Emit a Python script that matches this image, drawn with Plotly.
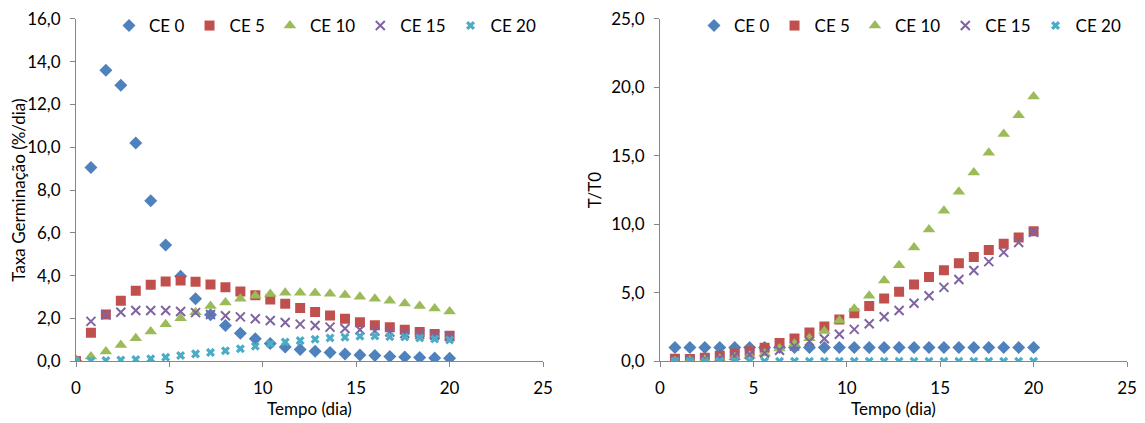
import plotly.graph_objects as go

# ---- data ----
x_rate = [0, 0.8, 1.6, 2.4, 3.2, 4.0, 4.8, 5.6, 6.4, 7.2, 8.0, 8.8, 9.6, 10.4, 11.2,
          12.0, 12.8, 13.6, 14.4, 15.2, 16.0, 16.8, 17.6, 18.4, 19.2, 20.0]
rate_ce0 = [0, 9.05, 13.6, 12.9, 10.2, 7.5, 5.43, 3.97, 2.92, 2.17, 1.67, 1.31, 1.05, 0.83, 0.66,
            0.54, 0.46, 0.40, 0.34, 0.29, 0.26, 0.22, 0.19, 0.17, 0.15, 0.13]
rate_ce5 = [0, 1.33, 2.18, 2.83, 3.29, 3.57, 3.72, 3.77, 3.71, 3.59, 3.45, 3.26, 3.08, 2.88, 2.68,
            2.49, 2.30, 2.13, 1.98, 1.82, 1.68, 1.58, 1.47, 1.36, 1.27, 1.19]
rate_ce10 = [0, 0.22, 0.45, 0.76, 1.07, 1.39, 1.72, 2.01, 2.29, 2.58, 2.74, 2.92, 3.06, 3.14, 3.20,
             3.20, 3.19, 3.15, 3.09, 3.01, 2.92, 2.83, 2.70, 2.58, 2.46, 2.32]
rate_ce15 = [0, 1.86, 2.17, 2.29, 2.37, 2.37, 2.37, 2.32, 2.27, 2.18, 2.12, 2.07, 1.98, 1.90, 1.81,
             1.73, 1.67, 1.59, 1.53, 1.47, 1.41, 1.36, 1.30, 1.25, 1.21, 1.16]
rate_ce20 = [0, 0.02, 0.03, 0.05, 0.08, 0.11, 0.18, 0.26, 0.34, 0.41, 0.49, 0.58, 0.70, 0.81, 0.90,
             0.96, 1.02, 1.08, 1.12, 1.16, 1.18, 1.14, 1.13, 1.08, 1.04, 0.99]

x_ratio = [0.8, 1.6, 2.4, 3.2, 4.0, 4.8, 5.6, 6.4, 7.2, 8.0, 8.8, 9.6, 10.4, 11.2,
           12.0, 12.8, 13.6, 14.4, 15.2, 16.0, 16.8, 17.6, 18.4, 19.2, 20.0]
ratio_ce0 = [1.0] * 25
ratio_ce5 = [0.17, 0.16, 0.24, 0.39, 0.56, 0.72, 0.98, 1.32, 1.66, 2.10, 2.54, 3.05, 3.50, 4.03,
             4.57, 5.07, 5.60, 6.14, 6.64, 7.15, 7.61, 8.12, 8.58, 9.03, 9.49]
ratio_ce10 = [0.0, 0.05, 0.10, 0.18, 0.28, 0.40, 0.56, 0.92, 1.28, 1.68, 2.20, 2.97, 3.82, 4.78,
              5.89, 7.00, 8.31, 9.61, 10.99, 12.37, 13.79, 15.22, 16.59, 17.97, 19.33]
ratio_ce15 = [0.08, 0.10, 0.15, 0.25, 0.39, 0.48, 0.60, 0.80, 1.10, 1.45, 1.64, 1.96, 2.32, 2.73,
              3.24, 3.70, 4.23, 4.78, 5.39, 5.97, 6.62, 7.27, 7.95, 8.67, 9.42]
ratio_ce20 = [0.0] * 25

names = ["CE 0", "CE 5", "CE 10", "CE 15", "CE 20"]
colors = ["#4F81BD", "#C0504D", "#9BBB59", "#8064A2", "#4BACC6"]
symbols = ["diamond", "square", "triangle-up", "x-thin-open", "x"]
sizes = [10, 10, 11, 9, 8]

FONT = "Lato"
FS = 17
# page body has an 8px margin, so the figure is placed at (8, 8)
W, H = 1137, 415

fig = go.Figure()
left = [rate_ce0, rate_ce5, rate_ce10, rate_ce15, rate_ce20]
right = [ratio_ce0, ratio_ce5, ratio_ce10, ratio_ce15, ratio_ce20]

def marker(i):
    m = dict(symbol=symbols[i], color=colors[i], size=sizes[i])
    if symbols[i].endswith("open"):
        m["line"] = dict(color=colors[i], width=2)
    else:
        m["line"] = dict(width=0)
    return m

for i in range(5):
    fig.add_trace(go.Scatter(x=x_rate, y=left[i], mode="markers", name=names[i],
                             marker=marker(i), xaxis="x", yaxis="y", legend="legend"))
for i in range(5):
    fig.add_trace(go.Scatter(x=x_ratio, y=right[i], mode="markers", name=names[i],
                             marker=marker(i), xaxis="x2", yaxis="y2", legend="legend2"))

axcol = "#868686"
tfont = dict(family=FONT, size=FS, color="black")
common_x = dict(range=[0, 25], dtick=5, tick0=0, showgrid=False, zeroline=False,
                showline=True, linecolor=axcol, linewidth=1, ticks="outside",
                ticklen=5, tickcolor=axcol, tickformat="d", automargin=False,
                tickfont=tfont, ticklabelstandoff=6, ticklabeloverflow="allow",
                title=dict(text="Tempo (dia)", font=tfont, standoff=6))
common_y = dict(showgrid=False, zeroline=False, showline=True, linecolor=axcol,
                linewidth=1, ticks="outside", ticklen=5, tickcolor=axcol,
                tickformat=".1f", tickfont=tfont, automargin=False,
                ticklabelstandoff=6, ticklabeloverflow="allow")

ydom = [62 / H, 405 / H]
fig.update_layout(
    width=W, height=H,
    margin=dict(l=0, r=0, t=0, b=0),
    paper_bgcolor="white", plot_bgcolor="white",
    separators=",.",
    font=dict(family=FONT, size=FS, color="black"),
    xaxis=dict(domain=[68 / W, 535 / W], anchor="y", **common_x),
    yaxis=dict(domain=ydom, anchor="x", range=[0, 16], dtick=2,
               title=dict(text="Taxa Germinação (%/dia)", font=tfont, standoff=1),
               **common_y),
    xaxis2=dict(domain=[652 / W, 1119 / W], anchor="y2", **common_x),
    yaxis2=dict(domain=ydom, anchor="x2", range=[0, 25], dtick=5,
                title=dict(text="T/T0", font=tfont, standoff=5),
                **common_y),
    legend=dict(orientation="h", x=101 / W, y=1 - 17 / H, xanchor="left", yanchor="middle",
                font=tfont, bgcolor="rgba(0,0,0,0)"),
    legend2=dict(orientation="h", x=686 / W, y=1 - 17 / H, xanchor="left", yanchor="middle",
                 font=tfont, bgcolor="rgba(0,0,0,0)"),
)

fig.write_html("out.html")
